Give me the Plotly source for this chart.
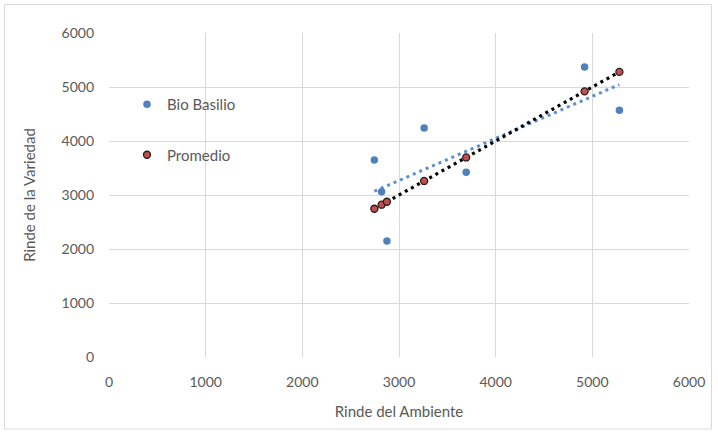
import numpy as np
import plotly.graph_objects as go

# Rinde del ambiente (kg/ha) por ensayo
rinde_ambiente = [2745, 2820, 2875, 3260, 3695, 4920, 5280]
# Rinde de la variedad Bio Basilio en cada ambiente
bio_basilio = [3650, 3060, 2150, 4240, 3420, 5370, 4570]
# Promedio de todas las variedades en cada ambiente
promedio = [2745, 2820, 2875, 3260, 3695, 4920, 5280]

x_ticks = [0, 1000, 2000, 3000, 4000, 5000, 6000]
y_ticks = [0, 1000, 2000, 3000, 4000, 5000, 6000]

BLUE = "#4F81BD"
TREND_BLUE = "#5B8FD0"
RED = "#C0504D"
FONT = "Lato, Calibri, 'Open Sans', sans-serif"
GREY_TEXT = "#595959"


def linear_trend(xs, ys):
    xs = np.asarray(xs, dtype=float)
    ys = np.asarray(ys, dtype=float)
    slope, intercept = np.polyfit(xs, ys, 1)
    xr = np.array([xs.min(), xs.max()])
    return xr, slope * xr + intercept


fig = go.Figure()

# Líneas de tendencia lineal (punteadas)
tx, ty = linear_trend(rinde_ambiente, bio_basilio)
fig.add_trace(go.Scatter(
    x=tx, y=ty, mode="lines", showlegend=False, hoverinfo="skip",
    line=dict(color=TREND_BLUE, width=3, dash="3px,4px"),
))
tx2, ty2 = linear_trend(rinde_ambiente, promedio)
fig.add_trace(go.Scatter(
    x=tx2, y=ty2, mode="lines", showlegend=False, hoverinfo="skip",
    line=dict(color="#000000", width=3.2, dash="3px,4px"),
))

# Series de puntos
fig.add_trace(go.Scatter(
    x=rinde_ambiente, y=bio_basilio, mode="markers", name="Bio Basilio",
    legendgroup="a",
    marker=dict(color=BLUE, size=7.5, line=dict(width=0)),
))
fig.add_trace(go.Scatter(
    x=rinde_ambiente, y=promedio, mode="markers", name="Promedio",
    legendgroup="b",
    marker=dict(color=RED, size=7, line=dict(color="#2a1a1a", width=1.3)),
))

axis_common = dict(
    showgrid=True, gridcolor="#D9D9D9", gridwidth=1,
    zeroline=False, ticks="", showline=False,
    tickfont=dict(family=FONT, size=14, color=GREY_TEXT),
)

fig.update_xaxes(
    range=[0, 6000], tickvals=x_ticks, ticktext=[str(v) for v in x_ticks],
    title=dict(text="Rinde del Ambiente", font=dict(family=FONT, size=15, color=GREY_TEXT),
               standoff=17),
    ticklabelstandoff=15,
    **axis_common,
)
fig.update_yaxes(
    range=[0, 6000], tickvals=y_ticks, ticktext=[str(v) for v in y_ticks],
    title=dict(text="Rinde de la Variedad", font=dict(family=FONT, size=15, color=GREY_TEXT),
               standoff=22),
    ticklabelstandoff=14,
    **axis_common,
)

# Borde exterior del gráfico
fig.add_shape(
    type="rect", xref="paper", yref="paper",
    x0=(4.5 - 109) / 580, x1=(711.5 - 109) / 580,
    y0=(357 - 429) / 324, y1=(357 - 4.5) / 324,
    line=dict(color="#D9D9D9", width=1), fillcolor="rgba(0,0,0,0)", layer="below",
)

fig.update_layout(
    width=718, height=432,
    margin=dict(l=109, r=29, t=33, b=75),
    paper_bgcolor="white", plot_bgcolor="white",
    font=dict(family=FONT, size=14, color=GREY_TEXT),
    showlegend=True,
    legend=dict(
        x=(127 - 109) / 580, y=(357 - 88) / 324, xanchor="left", yanchor="top",
        bgcolor="rgba(0,0,0,0)", borderwidth=0,
        font=dict(family=FONT, size=15, color=GREY_TEXT),
        traceorder="grouped", tracegroupgap=28, itemwidth=30,
    ),
)

fig.write_html("out.html")
